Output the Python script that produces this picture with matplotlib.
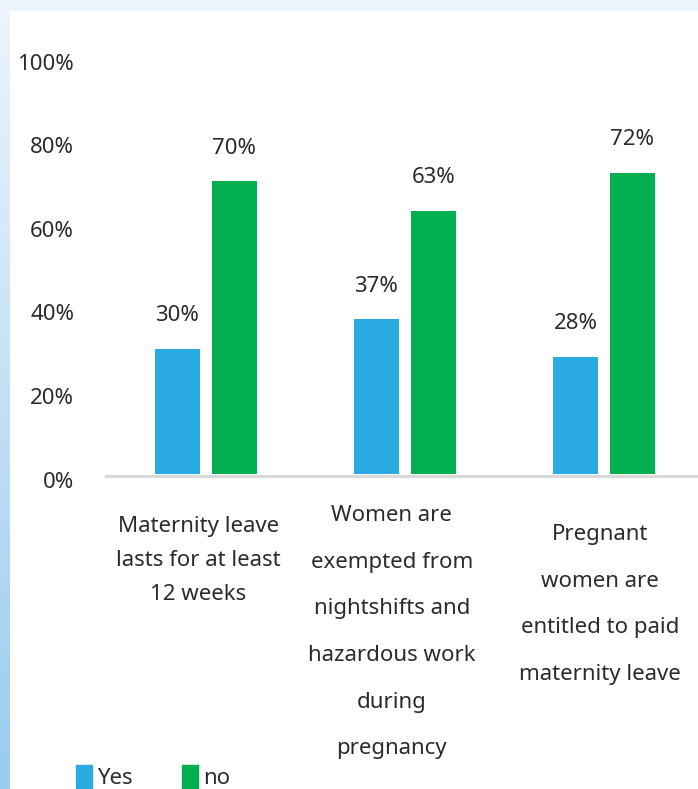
import numpy as np
import matplotlib.pyplot as plt
import matplotlib.transforms as mtransforms
from matplotlib.patches import Patch, Rectangle

plt.rcParams['font.family'] = ['Noto Sans', 'DejaVu Sans']

categories = [
    'Maternity leave\nlasts for at least\n12 weeks',
    'Women are\nexempted from\nnightshifts and\nhazardous work\nduring\npregnancy',
    'Pregnant\nwomen are\nentitled to paid\nmaternity leave',
]
yes_vals = [30, 37, 28]
no_vals = [70, 63, 72]
y_ticks = [0, 20, 40, 60, 80, 100]

blue = '#29abe2'
green = '#00b050'
txt = '#2b2b2b'
fs = 16

W, H = 698, 789
fig = plt.figure(figsize=(W / 100, H / 100), dpi=100)

# light blue frame on the left/top, white panel inside
bg = fig.add_axes([0, 0, 1, 1])
grad = np.linspace(0, 1, 256).reshape(-1, 1)
c_top = np.array([0.93, 0.96, 0.99])
c_bot = np.array([0.60, 0.80, 0.94])
img = c_top + (c_bot - c_top) * grad[:, :, None]
bg.imshow(img, aspect='auto', extent=[0, 1, 0, 1], origin='upper')
bg.add_patch(Rectangle((0, 1 - 11 / H), 1, 11 / H, color=c_top, lw=0))
bg.add_patch(Rectangle((10 / W, 0), 1, 1 - 11 / H, color='white', lw=0))
bg.set_xlim(0, 1)
bg.set_ylim(0, 1)
bg.axis('off')

ax = fig.add_axes([106 / W, 315 / H, 597.5 / W, 418 / H])
ax.patch.set_alpha(0)
x = np.arange(len(categories))
bw = 0.226
off = 0.143
b1 = ax.bar(x - off, yes_vals, bw, color=blue, zorder=3)
b2 = ax.bar(x + off, no_vals, bw, color=green, zorder=3)

for bars, vals in ((b1, yes_vals), (b2, no_vals)):
    for r, v in zip(bars, vals):
        ax.annotate(f'{v}%', (r.get_x() + r.get_width() / 2, v),
                    xytext=(0, 24), textcoords='offset points',
                    ha='center', va='center', fontsize=fs, color=txt)

ax.set_xlim(-0.5, 2.5)
ax.set_ylim(0, 100)
ax.set_yticks(y_ticks)
ax.set_yticklabels([f'{t}%' for t in y_ticks], fontsize=fs, color=txt)
ax.tick_params(axis='y', length=0, pad=23)
shift = mtransforms.ScaledTranslation(0, -4 / 72, fig.dpi_scale_trans)
for lab in ax.get_yticklabels():
    lab.set_transform(lab.get_transform() + shift)
ax.set_xticks([])
for s in ('top', 'right', 'left'):
    ax.spines[s].set_visible(False)
ax.spines['bottom'].set_color('#d9d9d9')
ax.spines['bottom'].set_linewidth(2.2)
ax.spines['bottom'].set_position(('outward', 1.1))

# category labels under the axis
lab_dx = [-7, -13, -4]
lab_drop = [30.5, 22.5, 36]
lab_space = [1.79, 2.6, 2.6]
for i, c in enumerate(categories):
    ax.annotate(c, xy=(i, 0), xycoords=('data', 'axes fraction'),
                xytext=(lab_dx[i] * 0.72, -lab_drop[i]), textcoords='offset points',
                ha='center', va='top', fontsize=fs, color=txt,
                linespacing=lab_space[i], multialignment='center')

handles = [Patch(color=blue, label='Yes'), Patch(color=green, label='no')]
fig.legend(handles=handles, loc='lower left', bbox_to_anchor=(76 / W, 0),
           ncol=2, frameon=False, fontsize=fs, handlelength=0.73,
           handleheight=1.15, handletextpad=0.23, columnspacing=2.2,
           borderpad=0, borderaxespad=0, labelcolor=txt)

fig.savefig('out.png', dpi=100)
